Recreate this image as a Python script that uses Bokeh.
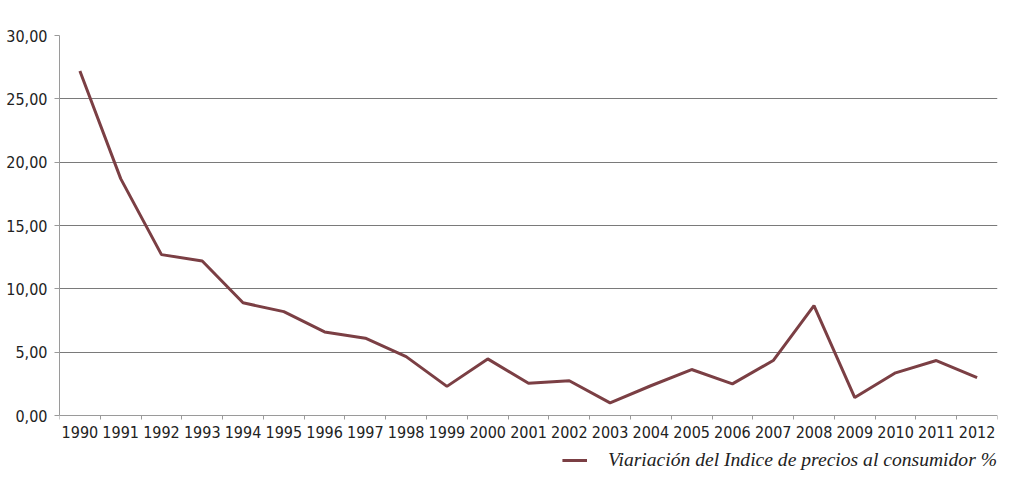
from bokeh.plotting import figure
from bokeh.models import FixedTicker, Range1d, Legend, LegendItem
from bokeh.embed import file_html
from bokeh.resources import INLINE

years = ["1990", "1991", "1992", "1993", "1994", "1995", "1996", "1997", "1998", "1999",
         "2000", "2001", "2002", "2003", "2004", "2005", "2006", "2007", "2008", "2009",
         "2010", "2011", "2012"]
ipc = [27.2, 18.7, 12.7, 12.2, 8.9, 8.2, 6.6, 6.1, 4.65, 2.3,
       4.47, 2.55, 2.74, 1.0, 2.35, 3.63, 2.5, 4.34, 8.68, 1.42,
       3.37, 4.34, 3.0]
y_ticks = [0, 5, 10, 15, 20, 25, 30]
y_labels = ["0,00", "5,00", "10,00", "15,00", "20,00", "25,00", "30,00"]
legend_label = "Viariación del Indice de precios al consumidor %"

LINE = "#7b3f44"
AXIS = "#9a9a9a"
TICKFONT = "DejaVu Sans Condensed"

n = len(years)
xs = [i + 0.5 for i in range(n)]

p = figure(width=1008, height=475, output_backend="svg", toolbar_location=None,
           x_range=Range1d(0, n), y_range=Range1d(-4.42, 30),
           min_border_left=59, min_border_right=11, min_border_top=35, min_border_bottom=4)
p.outline_line_color = None
p.background_fill_color = "white"
p.border_fill_color = "white"

r = p.line(xs, ipc, line_color=LINE, line_width=3)

# x axis drawn at y = 0
p.xaxis.fixed_location = 0
p.xaxis.ticker = FixedTicker(ticks=xs, minor_ticks=list(range(n + 1)))
p.xaxis.major_label_overrides = {x: y for x, y in zip(xs, years)}
p.xaxis.major_tick_out = 0
p.xaxis.major_tick_in = 0
p.xaxis.minor_tick_out = 4
p.xaxis.minor_tick_in = 0
p.xaxis.minor_tick_line_color = AXIS
p.xaxis.axis_line_color = AXIS
p.xaxis.major_label_text_font = TICKFONT
p.xaxis.major_label_text_font_size = "16px"
p.xaxis.major_label_text_color = "#222222"
p.xaxis.major_label_standoff = 6

# y axis
p.yaxis.bounds = (0, 30)
p.yaxis.ticker = FixedTicker(ticks=y_ticks)
p.yaxis.major_label_overrides = {t: l for t, l in zip(y_ticks, y_labels)}
p.yaxis.major_tick_out = 5
p.yaxis.major_tick_in = 0
p.yaxis.minor_tick_line_color = None
p.yaxis.axis_line_color = AXIS
p.yaxis.major_tick_line_color = AXIS
p.yaxis.major_label_text_font = TICKFONT
p.yaxis.major_label_text_font_size = "16px"
p.yaxis.major_label_text_color = "#222222"
p.yaxis.major_label_standoff = 7

p.xgrid.grid_line_color = None
p.ygrid.ticker = FixedTicker(ticks=y_ticks[1:])
p.ygrid.grid_line_color = "#7a7a7a"
p.ygrid.grid_line_width = 1

legend = Legend(items=[LegendItem(label=legend_label, renderers=[r])],
                location="bottom_right", padding=0, margin=0,
                border_line_color=None, background_fill_alpha=0,
                glyph_width=25, glyph_height=16, label_height=16, label_standoff=21,
                label_text_font="Liberation Serif", label_text_font_style="italic",
                label_text_font_size="19.6px", label_text_color="#222222")
p.add_layout(legend, "center")

open("out.html", "w").write(file_html(p, INLINE))
